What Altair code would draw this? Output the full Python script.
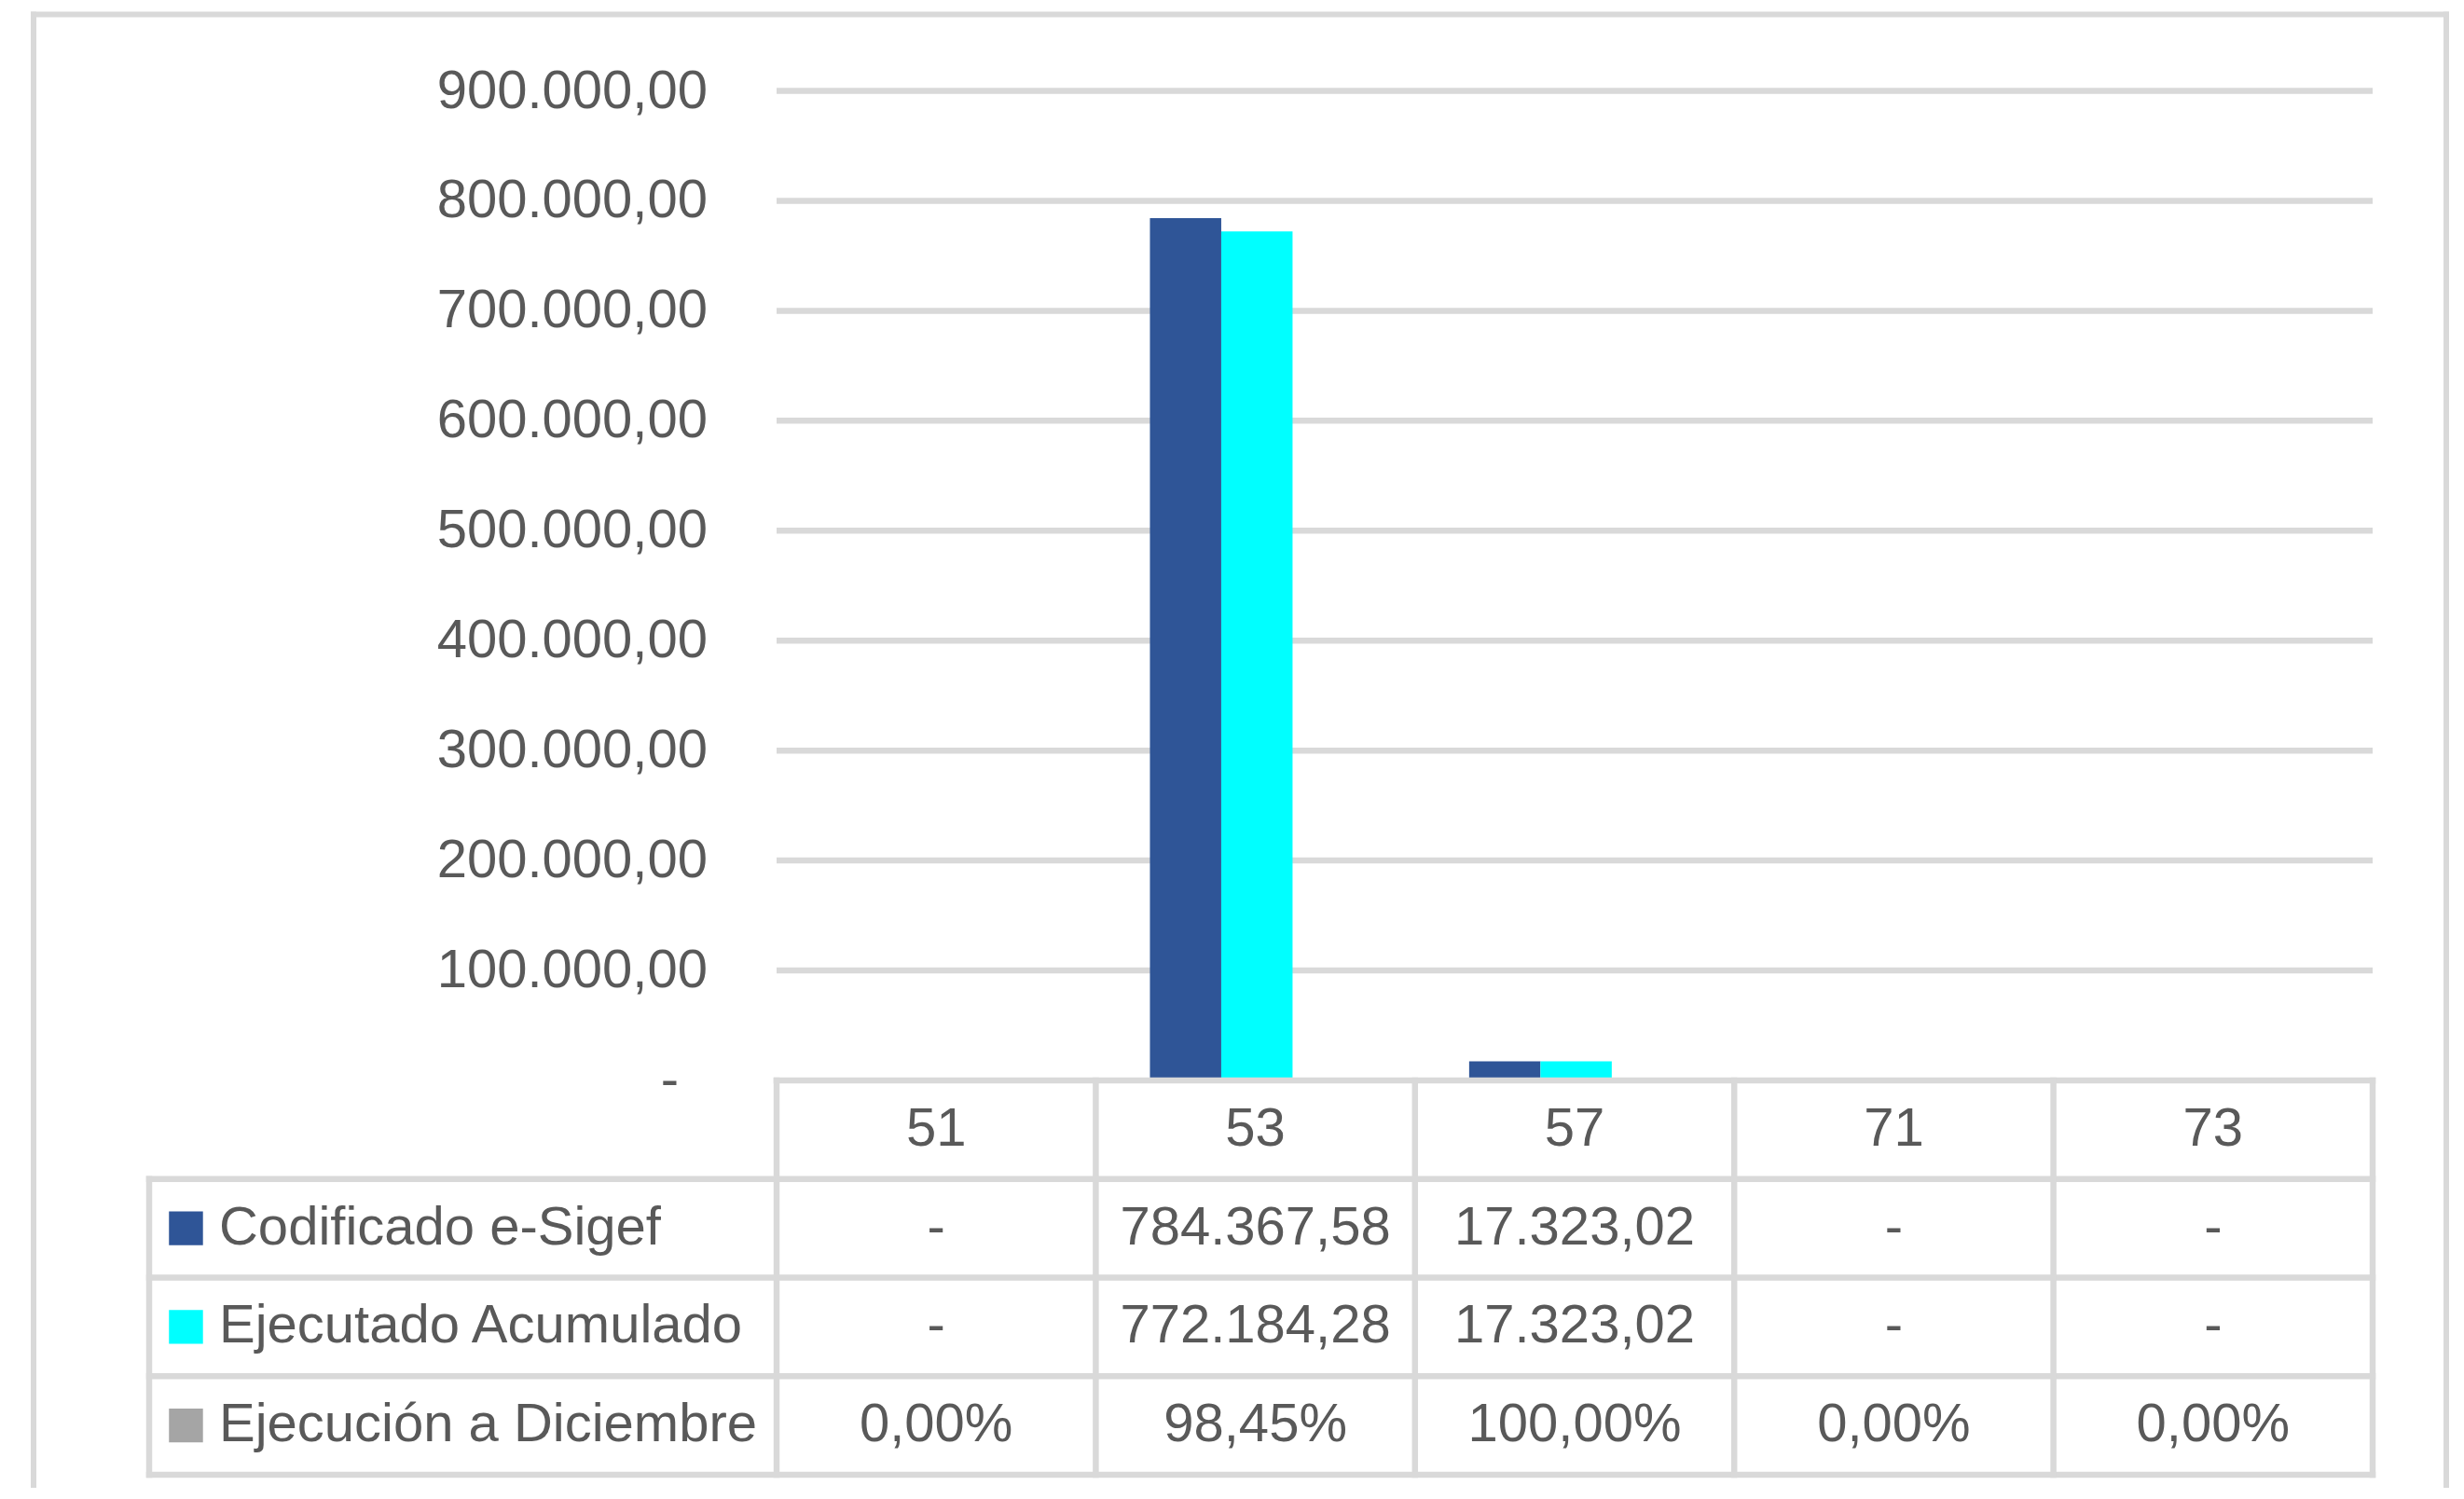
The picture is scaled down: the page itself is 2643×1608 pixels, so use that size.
import altair as alt
import pandas as pd

# ---------------- data ----------------
categories = ["51", "53", "57", "71", "73"]
codificado = [0.0, 784367.58, 17323.02, 0.0, 0.0]
ejecutado = [0.0, 772184.28, 17323.02, 0.0, 0.0]
ejecucion_pct = [0.00, 98.45, 100.00, 0.00, 0.00]
series_names = ["Codificado e-Sigef", "Ejecutado Acumulado", "Ejecución a Diciembre"]
series_colors = ["#2F5597", "#00FFFF", "#A5A5A5"]
y_ticks = [0, 100000, 200000, 300000, 400000, 500000, 600000, 700000, 800000, 900000]


def es_num(v):
    s = f"{v:,.2f}"
    return s.replace(",", "#").replace(".", ",").replace("#", ".")


def es_amount(v):
    return "-" if v == 0 else es_num(v)


def es_pct(p):
    return es_num(p) + "%"


# ---------------- layout / style ----------------
FONT = "Liberation Sans"
TXT = "#595959"
LINE = "#D9D9D9"
FS = 58
LW = 6.5

W = 2588
H = 1580
PAD_L = 28
PAD_T = 7.5

COL_W = 342.4
X0_PAGE = 833
LEG_L_PAGE = 160
PLOT_L_PAGE = PAD_L + 8
x_min = (PLOT_L_PAGE - X0_PAGE) / COL_W
x_max = x_min + W / COL_W
x_leg = (LEG_L_PAGE - X0_PAGE) / COL_W

PLOT_T_PAGE = PAD_T + 8
PLOT_B_PAGE = PLOT_T_PAGE + H
ZERO_PAGE = 1159
TOP_TICK_PAGE = 97.5
k = 900000 / (ZERO_PAGE - TOP_TICK_PAGE)
v_top = 900000 + (TOP_TICK_PAGE - PLOT_T_PAGE) * k
v_bot = -(PLOT_B_PAGE - ZERO_PAGE) * k

ROW_H = (1582 - 1159) / 4
r_top = -(ZERO_PAGE - PLOT_T_PAGE) / ROW_H
r_bot = (PLOT_B_PAGE - ZERO_PAGE) / ROW_H

SHIFT = 0.107
BW = 0.2234
YLAB_X = (759 - X0_PAGE) / COL_W
YLAB_ZERO_X = (728 - X0_PAGE) / COL_W
SQ_X = x_leg + 0.1153
LAB_X = x_leg + 0.219

n = len(categories)
nrows = len(series_names) + 1

xs = alt.Scale(domain=[x_min, x_max], nice=False, zero=False)
ys_val = alt.Scale(domain=[v_bot, v_top], nice=False, zero=False)
ys_row = alt.Scale(domain=[r_top, r_bot], nice=False, zero=False, reverse=True)
color_scale = alt.Scale(domain=series_names, range=series_colors)

# ---------------- bar chart part ----------------
bar_rows = []
for s_i, vals in enumerate([codificado, ejecutado]):
    for c_i, v in enumerate(vals):
        bar_rows.append({"cat": categories[c_i], "idx": c_i, "s": s_i,
                         "serie": series_names[s_i], "valor": v})
bars_df = pd.DataFrame(bar_rows)

bars = alt.Chart(bars_df).transform_calculate(
    xa=f"datum.idx + 0.5 - {SHIFT} + (datum.s - 1) * {BW}",
    xb=f"datum.idx + 0.5 - {SHIFT} + datum.s * {BW}",
).mark_bar().encode(
    x=alt.X("xa:Q", scale=xs, axis=None),
    x2="xb:Q",
    y=alt.Y("valor:Q", scale=ys_val, axis=None),
    y2=alt.datum(0),
    color=alt.Color("serie:N", scale=color_scale, legend=None),
)

grid_df = pd.DataFrame({"v": y_ticks[1:]})
grid = alt.Chart(grid_df).transform_calculate(
    xa="0", xb=str(n)
).mark_rule(color=LINE, strokeWidth=LW).encode(
    x=alt.X("xa:Q", scale=xs, axis=None),
    x2="xb:Q",
    y=alt.Y("v:Q", scale=ys_val, axis=None),
)

ylab_df = pd.DataFrame({
    "v": y_ticks,
    "lab": ["-" if t == 0 else es_num(t) for t in y_ticks],
})
ylabels = alt.Chart(ylab_df).transform_calculate(
    xa=f"datum.v == 0 ? {YLAB_ZERO_X} : {YLAB_X}"
).mark_text(align="right", baseline="middle", dy=1, font=FONT,
            fontSize=FS, color=TXT).encode(
    x=alt.X("xa:Q", scale=xs, axis=None),
    y=alt.Y("v:Q", scale=ys_val, axis=None),
    text="lab:N",
)

# ---------------- data table part ----------------
segs = [(0, n, 0, 0)]
for r in range(1, nrows + 1):
    segs.append((x_leg, n, r, r))
for c in range(n + 1):
    segs.append((c, c, 0, nrows))
segs.append((x_leg, x_leg, 1, nrows))
seg_df = pd.DataFrame(segs, columns=["xa", "xb", "ya", "yb"])

lines = alt.Chart(seg_df).mark_rule(
    color=LINE, strokeWidth=LW, strokeCap="square"
).encode(
    x=alt.X("xa:Q", scale=xs, axis=None),
    x2="xb:Q",
    y=alt.Y("ya:Q", scale=ys_row, axis=None),
    y2="yb:Q",
)

frame_df = pd.DataFrame(
    [(x_min, x_max, r_top, r_top), (x_min, x_min, r_top, r_bot), (x_max, x_max, r_top, r_bot)],
    columns=["xa", "xb", "ya", "yb"],
)
frame = alt.Chart(frame_df).mark_rule(
    color=LINE, strokeWidth=6, strokeCap="square"
).encode(
    x=alt.X("xa:Q", scale=xs, axis=None),
    x2="xb:Q",
    y=alt.Y("ya:Q", scale=ys_row, axis=None),
    y2="yb:Q",
)

cells = []
for c_i, cat in enumerate(categories):
    cells.append({"col": c_i, "row": 0, "lab": cat})
    cells.append({"col": c_i, "row": 1, "lab": es_amount(codificado[c_i])})
    cells.append({"col": c_i, "row": 2, "lab": es_amount(ejecutado[c_i])})
    cells.append({"col": c_i, "row": 3, "lab": es_pct(ejecucion_pct[c_i])})
cells_df = pd.DataFrame(cells)

cell_text = alt.Chart(cells_df).transform_calculate(
    xc="datum.col + 0.5", yc="datum.row + 0.5"
).mark_text(align="center", baseline="middle", dy=0, font=FONT,
            fontSize=FS, color=TXT).encode(
    x=alt.X("xc:Q", scale=xs, axis=None),
    y=alt.Y("yc:Q", scale=ys_row, axis=None),
    text="lab:N",
)

leg_df = pd.DataFrame({"serie": series_names, "row": [1, 2, 3]})

squares = alt.Chart(leg_df).transform_calculate(
    xc=str(SQ_X), yc="datum.row + 0.5"
).mark_square(size=1330, opacity=1).encode(
    x=alt.X("xc:Q", scale=xs, axis=None),
    y=alt.Y("yc:Q", scale=ys_row, axis=None),
    color=alt.Color("serie:N", scale=color_scale, legend=None),
)

row_labels = alt.Chart(leg_df).transform_calculate(
    xc=str(LAB_X), yc="datum.row + 0.5"
).mark_text(align="left", baseline="middle", dy=0, font=FONT,
            fontSize=FS, color=TXT).encode(
    x=alt.X("xc:Q", scale=xs, axis=None),
    y=alt.Y("yc:Q", scale=ys_row, axis=None),
    text="serie:N",
)

chart = alt.layer(
    grid, bars, ylabels, lines, frame, squares, row_labels, cell_text
).resolve_scale(
    y="independent"
).properties(
    width=W,
    height=H,
    padding={"left": PAD_L, "top": PAD_T, "right": 5, "bottom": 0},
    autosize=alt.AutoSizeParams(type="none"),
    background="white",
).configure_view(stroke=None)

chart.save("out.html", embed_options={"renderer": "svg", "actions": False})
